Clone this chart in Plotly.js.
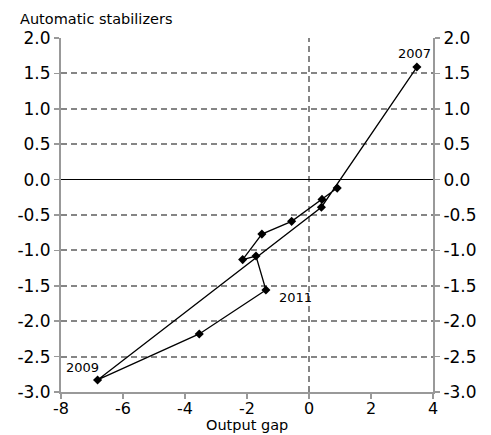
<!DOCTYPE html>
<html>
<head>
<meta charset="utf-8">
<script src="https://cdn.plot.ly/plotly-3.0.1.min.js"></script>
<style>html,body{margin:0;padding:0;background:#fff;}#chart{width:491px;height:435px;}</style>
</head>
<body>
<div id="chart"></div>
<script>
var years = ['2007','2008','2009','2010','2011','2012','2013','2014','2015','2016','2017'];
var outputGap = [3.48, 0.40, -6.82, -3.54, -1.39, -1.71, -2.14, -1.52, -0.56, 0.42, 0.91];
var stabilizers = [1.59, -0.39, -2.83, -2.18, -1.56, -1.08, -1.13, -0.77, -0.59, -0.28, -0.12];
var labelledYears = ['2007', '2009', '2011'];
var xTickVals = [-8, -6, -4, -2, 0, 2, 4];
var xTickText = ['-8', '-6', '-4', '-2', '0', '2', '4'];
var yTickVals = [2.0, 1.5, 1.0, 0.5, 0.0, -0.5, -1.0, -1.5, -2.0, -2.5, -3.0];
var yTickText = ['2.0', '1.5', '1.0', '0.5', '0.0', '-0.5', '-1.0', '-1.5', '-2.0', '-2.5', '-3.0'];
var xTitle = 'Output gap';
var yTitle = 'Automatic stabilizers';

var labelOffsets = {'2007': [-2, 14], '2009': [-15, 12], '2011': [30, -7]};

var FONT = 'DejaVu Sans, sans-serif';
var axisGrey = '#999999';
var gridGrey = '#858585';

var traces = [{
  x: outputGap, y: stabilizers, type: 'scatter', mode: 'lines+markers',
  line: {color: '#000', width: 1.3},
  marker: {symbol: 'diamond', size: 7, color: '#000'},
  hoverinfo: 'skip', showlegend: false
}, {
  x: outputGap, y: stabilizers, type: 'scatter', mode: 'markers', yaxis: 'y2',
  marker: {opacity: 0}, hoverinfo: 'skip', showlegend: false
}];

var annotations = labelledYears.map(function (yr) {
  var i = years.indexOf(yr);
  return {
    x: outputGap[i], y: stabilizers[i], xref: 'x', yref: 'y', text: yr, showarrow: false,
    xshift: labelOffsets[yr][0], yshift: labelOffsets[yr][1],
    font: {family: FONT, size: 13, color: '#000'}
  };
});
annotations.push({
  x: 0.5, y: 0, xref: 'paper', yref: 'paper', text: xTitle, showarrow: false,
  xanchor: 'center', yanchor: 'middle', yshift: -33,
  font: {family: FONT, size: 14.5, color: '#000'}
});

var yCommon = {
  range: [-3.0, 2.0], tickvals: yTickVals, ticktext: yTickText,
  ticks: 'outside', ticklen: 5, tickwidth: 1.5, tickcolor: axisGrey,
  showline: true, linecolor: axisGrey, linewidth: 2,
  tickfont: {family: FONT, size: 17, color: '#000'}, fixedrange: true
};

var layout = {
  width: 491, height: 435,
  margin: {l: 61, r: 58, t: 38, b: 43, pad: 0},
  paper_bgcolor: '#fff', plot_bgcolor: '#fff',
  title: {text: yTitle, xref: 'container', yref: 'container',
          x: 20/491, xanchor: 'left', y: 1 - 19/435, yanchor: 'middle',
          font: {family: FONT, size: 14.5, color: '#000'}},
  xaxis: {
    range: [-8, 4], tickvals: xTickVals, ticktext: xTickText,
    ticks: 'outside', ticklen: 5, tickwidth: 1.5, tickcolor: axisGrey,
    ticklabelstandoff: -4,
    showline: true, linecolor: axisGrey, linewidth: 2,
    showgrid: false, zeroline: false,
    tickfont: {family: FONT, size: 16, color: '#000'},
    fixedrange: true
  },
  yaxis: Object.assign({}, yCommon, {
    showgrid: true, gridcolor: gridGrey, gridwidth: 2, griddash: '6px,4px',
    zeroline: true, zerolinecolor: '#000', zerolinewidth: 1.5
  }),
  yaxis2: Object.assign({}, yCommon, {
    overlaying: 'y', side: 'right', showgrid: false, zeroline: false
  }),
  shapes: [{
    type: 'line', xref: 'x', yref: 'paper', x0: 0, x1: 0, y0: 0, y1: 1,
    line: {color: gridGrey, width: 2, dash: '6px,4px'}, layer: 'below'
  }],
  annotations: annotations
};

Plotly.newPlot('chart', traces, layout, {displayModeBar: false, staticPlot: true});
</script>
</body>
</html>
